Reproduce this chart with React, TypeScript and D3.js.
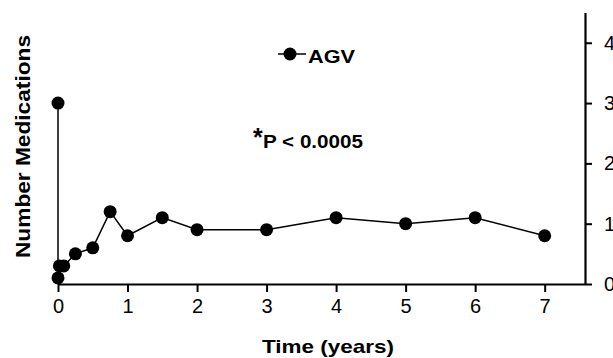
import React, { useRef, useEffect } from 'react';
import * as d3 from 'd3';

// AGV series: time in years, number of medications
const times = [0, 0, 0.02, 0.083, 0.25, 0.5, 0.75, 1, 1.5, 2, 3, 4, 5, 6, 7];
const meds = [3.0, 0.1, 0.3, 0.3, 0.5, 0.6, 1.2, 0.8, 1.1, 0.9, 0.9, 1.1, 1.0, 1.1, 0.8];
const xTicks = [0, 1, 2, 3, 4, 5, 6, 7];
const yTicks = [0, 1, 2, 3, 4];
const seriesName = 'AGV';
const note = 'P < 0.0005';

const W = 613;
const H = 358;
const FONT = "'Liberation Sans', Arial, sans-serif";

const App = () => {
    const svgRef = useRef<SVGSVGElement | null>(null);

    useEffect(() => {
        const svg = d3.select(svgRef.current);
        svg.selectAll('*').remove();

        const x = d3.scaleLinear().domain([0, 7.58]).range([58, 585]);
        const y = d3.scaleLinear().domain([0, 4.5]).range([284, 12.6]);

        // x axis
        const xAxis = svg.append('g')
            .attr('transform', `translate(0, ${y(0)})`)
            .call(d3.axisBottom(x).tickValues(xTicks).tickSize(8).tickPadding(7).tickSizeOuter(0));
        xAxis.select('.domain').attr('stroke-width', 2.2);
        xAxis.selectAll('.tick line').attr('stroke-width', 2);
        xAxis.selectAll('.tick text')
            .attr('font-family', FONT).attr('font-size', 20).attr('fill', '#000');

        // right y axis
        const yAxis = svg.append('g')
            .attr('transform', `translate(${x.range()[1]}, 0)`)
            .call(d3.axisRight(y).tickValues(yTicks).tickFormat(d3.format('d'))
                .tickSize(7).tickPadding(12).tickSizeOuter(0));
        yAxis.select('.domain').attr('stroke-width', 2.2);
        yAxis.selectAll('.tick line').attr('stroke-width', 2);
        yAxis.selectAll('.tick text')
            .attr('font-family', FONT).attr('font-size', 20).attr('fill', '#000');

        const pts = times.map((t, i) => [t, meds[i]] as [number, number]);

        const line = d3.line<[number, number]>()
            .x(d => x(d[0]))
            .y(d => y(d[1]));

        svg.append('path')
            .datum(pts)
            .attr('fill', 'none')
            .attr('stroke', '#000')
            .attr('stroke-width', 1.5)
            .attr('d', line);

        svg.append('g')
            .selectAll('circle')
            .data(pts)
            .join('circle')
            .attr('cx', d => x(d[0]))
            .attr('cy', d => y(d[1]))
            .attr('r', 6.5)
            .attr('fill', '#000');

        // legend
        const lg = svg.append('g').attr('transform', 'translate(278, 54)');
        lg.append('line').attr('x1', 0).attr('x2', 28).attr('y1', 0).attr('y2', 0)
            .attr('stroke', '#000').attr('stroke-width', 1.5);
        lg.append('circle').attr('cx', 12).attr('cy', 0).attr('r', 6.5).attr('fill', '#000');
        lg.append('text').attr('x', 30).attr('y', 9)
            .attr('font-family', FONT).attr('font-size', 19).attr('font-weight', 'bold')
            .attr('textLength', 47).attr('lengthAdjust', 'spacingAndGlyphs')
            .text(seriesName);

        // significance note
        svg.append('text')
            .attr('x', 253).attr('y', 146)
            .attr('font-family', FONT).attr('font-weight', 'bold').attr('font-size', 25)
            .text('*');
        svg.append('text')
            .attr('x', 263).attr('y', 148)
            .attr('font-family', FONT).attr('font-weight', 'bold').attr('font-size', 18)
            .attr('textLength', 100).attr('lengthAdjust', 'spacingAndGlyphs')
            .text(note);

        // axis titles
        svg.append('text')
            .attr('transform', `translate(30, 146.5) rotate(-90)`)
            .attr('text-anchor', 'middle')
            .attr('font-family', FONT).attr('font-size', 21).attr('font-weight', 'bold')
            .attr('textLength', 223).attr('lengthAdjust', 'spacingAndGlyphs')
            .text('Number Medications');

        svg.append('text')
            .attr('x', 328).attr('y', 353)
            .attr('text-anchor', 'middle')
            .attr('font-family', FONT).attr('font-size', 19).attr('font-weight', 'bold')
            .attr('textLength', 132).attr('lengthAdjust', 'spacingAndGlyphs')
            .text('Time (years)');
    }, []);

    return (
        <svg ref={svgRef} width={W} height={H}
            style={{ position: 'absolute', left: 0, top: 0, background: '#fff' }} />
    );
};

export default App;
